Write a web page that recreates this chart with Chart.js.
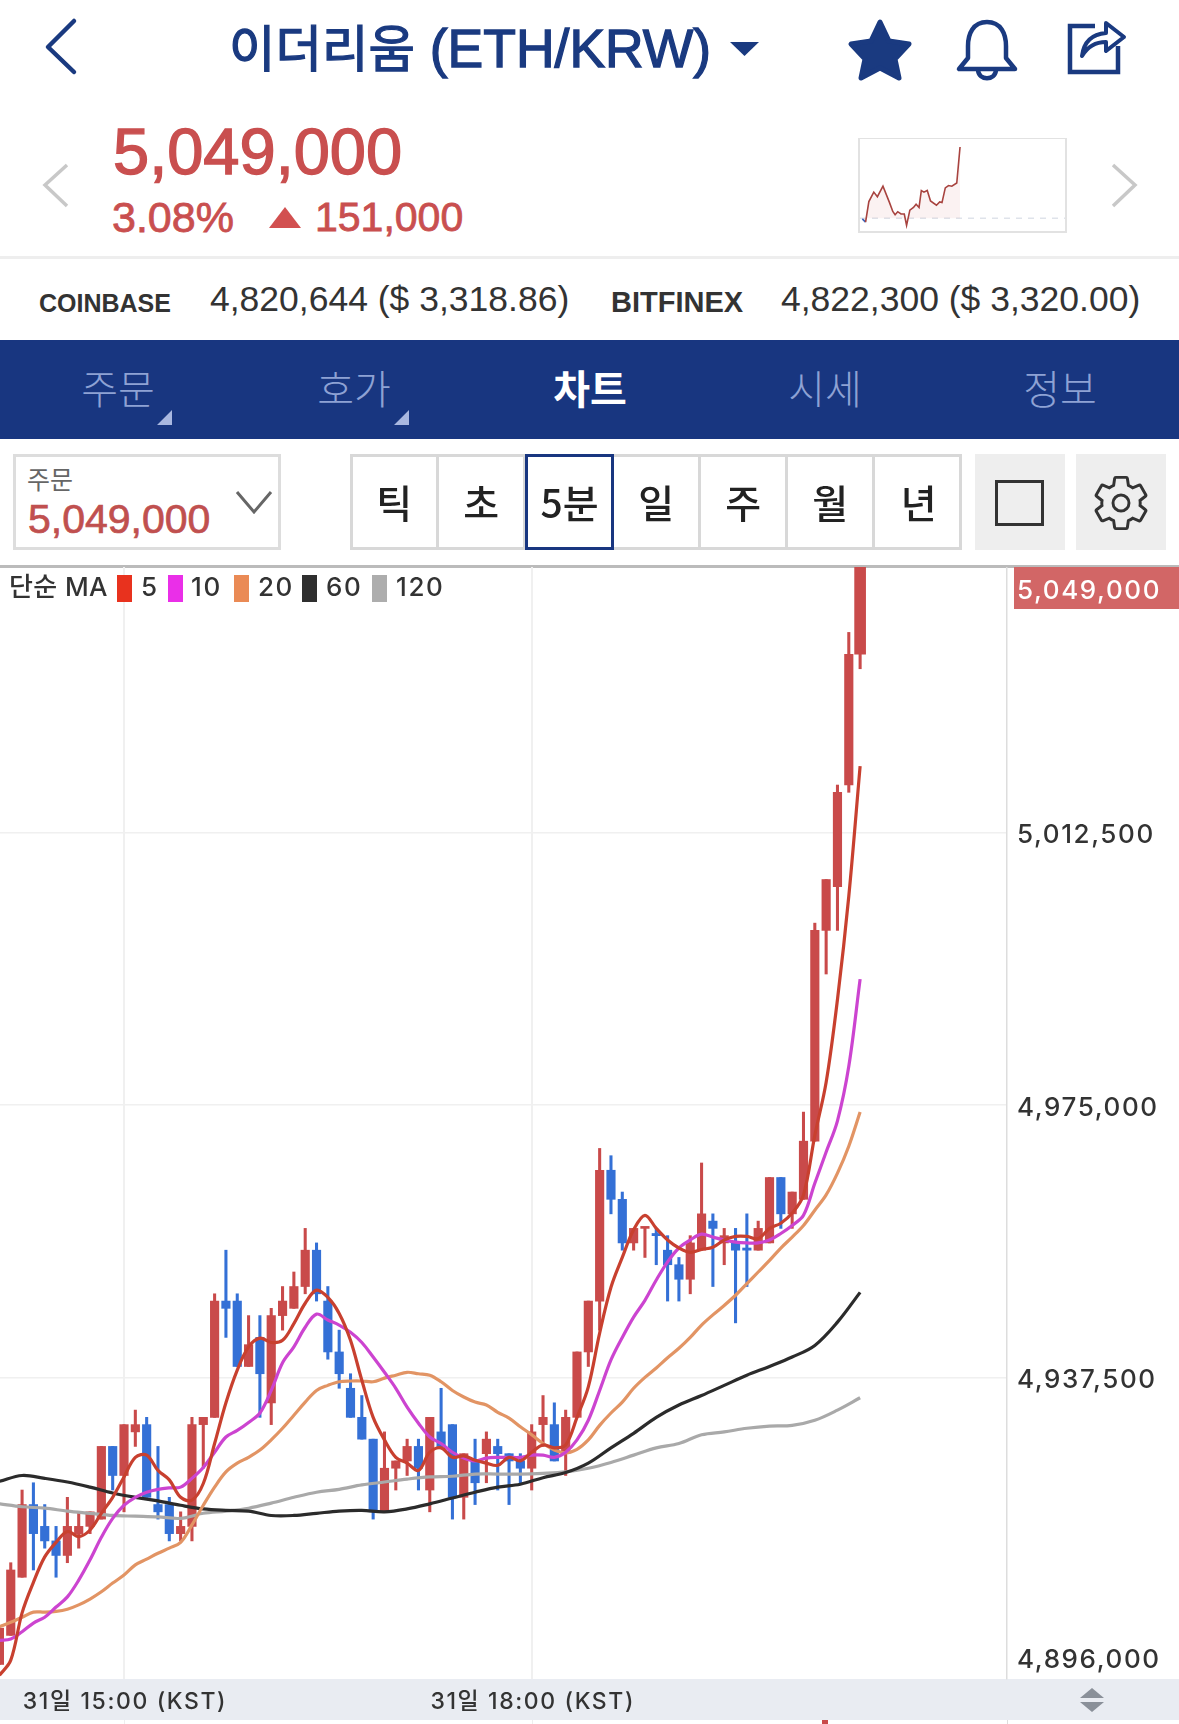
<!DOCTYPE html>
<html lang="ko">
<head>
<meta charset="utf-8">
<title>이더리움 (ETH/KRW)</title>
<script src="https://cdn.jsdelivr.net/npm/chart.js@4"></script>
<style>
* { box-sizing: border-box; }
html, body { margin: 0; padding: 0; background: #fff; }
body { width: 1179px; height: 1724px; position: relative; overflow: hidden; font-family: "Liberation Sans", "Noto Sans CJK KR", sans-serif; }
.abs { position: absolute; white-space: nowrap; line-height: 1; }
.tab { position: absolute; top: 367px; font-size: 40px; line-height: 1; color: #8ea2d4; transform: translateX(-50%); font-family: "Noto Sans CJK KR", sans-serif; font-weight: 300; }
.cell { position: absolute; top: 454px; height: 96px; width: 87.4px; border-right: 3px solid #d8d8d8; text-align: center; font-size: 39px; line-height: 94px; color: #222; font-family: "Noto Sans CJK KR", sans-serif; font-weight: 500; }
.sw { position: absolute; top: 575px; width: 15px; height: 27px; }
.lg { position: absolute; top: 573px; font: 500 26px/27px Inter, "Noto Sans CJK KR", sans-serif; letter-spacing: 1.6px; color: #333; white-space: nowrap; }
svg { position: absolute; overflow: visible; }
</style>
</head>
<body>

<!-- header -->
<svg style="left:0;top:0" width="1179" height="260" fill="none">
  <path d="M74 21 L48 47 L74 72" stroke="#1a3a80" stroke-width="4.5" stroke-linecap="round" stroke-linejoin="round"/>
  <path d="M730 42 H759 L744.5 56 Z" fill="#1a3a80"/>
  <path d="M880 22 L889 41 L909 44 L895 59 L899 78 L880 68 L861 78 L865 59 L851 44 L871 41 Z" fill="#1a3a80" stroke="#1a3a80" stroke-width="5" stroke-linejoin="round"/>
  <path d="M987 22 C973 22 968 34 968 46 V58 L959 69 H1015 L1006 58 V46 C1006 34 1001 22 987 22 Z" stroke="#1a3a80" stroke-width="4.5" stroke-linejoin="round"/>
  <path d="M978 70 C979 81 995 81 996 70" stroke="#1a3a80" stroke-width="4.5"/>
  <path d="M1095 26 H1070 V72 H1118 V46" stroke="#1a3a80" stroke-width="4.5"/>
  <path d="M1082 56 C1084 40 1094 34 1106 33 V23 L1124 37 L1106 51 V42 C1096 42 1088 46 1082 56 Z" stroke="#1a3a80" stroke-width="4" stroke-linejoin="round"/>
  <path d="M67 165 L45 185 L67 206" stroke="#c8c8c8" stroke-width="3.5"/>
  <path d="M1113 165 L1135 185 L1113 206" stroke="#c8c8c8" stroke-width="3.5"/>
  <path d="M269 228 L285 207 L301 228 Z" fill="#d25050"/>
</svg>
<div class="abs" style="left:229px;top:22px;font-size:53.5px;color:#1a3a80;font-weight:400;-webkit-text-stroke:1.3px #1a3a80"><span style="font-size:50.5px">이더리움</span> (ETH/KRW)</div>
<div class="abs" style="left:113px;top:119px;font-size:65px;color:#c94f4f;-webkit-text-stroke:1.4px #c94f4f">5,049,000</div>
<div class="abs" style="left:112px;top:196px;font-size:43px;color:#c94f4f;-webkit-text-stroke:.8px #c94f4f">3.08%</div>
<div class="abs" style="left:315px;top:197px;font-size:41px;color:#c94f4f;-webkit-text-stroke:.8px #c94f4f">151,000</div>

<div style="position:absolute;left:858px;top:138px;width:209px;height:95px;border:2px solid #e2e2e2;border-top-width:1px">
  <canvas id="sparkChart" width="205" height="92" style="display:block"></canvas>
</div>

<div style="position:absolute;left:0;top:256px;width:1179px;height:3px;background:#eee"></div>
<div class="abs" style="left:39px;top:291px;font-size:25px;font-weight:700;color:#333">COINBASE</div>
<div class="abs" style="left:210px;top:282px;font-size:35.5px;color:#333">4,820,644 ($ 3,318.86)</div>
<div class="abs" style="left:611px;top:288px;font-size:29px;font-weight:700;color:#333">BITFINEX</div>
<div class="abs" style="left:781px;top:282px;font-size:35.5px;color:#333">4,822,300 ($ 3,320.00)</div>

<!-- tabs -->
<div style="position:absolute;left:0;top:340px;width:1179px;height:99px;background:#183680"></div>
<div class="tab" style="left:118px">주문</div>
<div class="tab" style="left:354px">호가</div>
<div class="tab" style="left:590px;color:#fff;font-weight:700">차트</div>
<div class="tab" style="left:825px">시세</div>
<div class="tab" style="left:1060px">정보</div>
<svg style="left:0;top:0" width="1179" height="440">
  <path d="M172 410 V425 H157 Z M409 410 V425 H394 Z" fill="#a9b8e0"/>
</svg>

<!-- controls -->
<div style="position:absolute;left:13px;top:454px;width:268px;height:96px;border:3px solid #ddd"></div>
<div class="abs" style="left:27px;top:466px;font-size:25px;color:#666;font-family:'Noto Sans CJK KR'">주문</div>
<div class="abs" style="left:28px;top:499px;font-size:41px;color:#c0504f;-webkit-text-stroke:.7px #c0504f">5,049,000</div>
<svg style="left:0;top:0" width="300" height="560" fill="none"><path d="M237 492 L254 512 L271 492" stroke="#666" stroke-width="3"/></svg>

<div style="position:absolute;left:350px;top:454px;width:612px;height:96px;border:3px solid #d8d8d8"></div>
<div class="cell" style="left:352px">틱</div>
<div class="cell" style="left:439px">초</div>
<div class="cell" style="left:525px;border:3px solid #183680;line-height:88px;width:89px">5분</div>
<div class="cell" style="left:614px">일</div>
<div class="cell" style="left:701px">주</div>
<div class="cell" style="left:788px">월</div>
<div class="cell" style="left:875px;border-right:0">년</div>

<div style="position:absolute;left:975px;top:454px;width:90px;height:96px;background:#eee"></div>
<div style="position:absolute;left:995px;top:480px;width:49px;height:46px;border:3px solid #333"></div>
<div style="position:absolute;left:1076px;top:454px;width:90px;height:96px;background:#eee"></div>
<svg style="left:1089px;top:471px" width="64" height="64" viewBox="0 0 24 24" fill="none" stroke="#333" stroke-width="1.1">
  <path d="M19.14 12.94c.04-.3.06-.61.06-.94 0-.32-.02-.64-.07-.94l2.03-1.58a.49.49 0 0 0 .12-.61l-1.92-3.32a.49.49 0 0 0-.59-.22l-2.39.96c-.5-.38-1.03-.7-1.62-.94l-.36-2.54a.48.48 0 0 0-.48-.41h-3.84c-.24 0-.43.17-.47.41l-.36 2.54c-.59.24-1.13.57-1.62.94l-2.39-.96c-.22-.08-.47 0-.59.22L2.74 8.87c-.12.21-.08.47.12.61l2.03 1.58c-.05.3-.09.63-.09.94s.02.64.07.94l-2.03 1.58a.49.49 0 0 0-.12.61l1.92 3.32c.12.22.37.29.59.22l2.39-.96c.5.38 1.03.7 1.62.94l.36 2.54c.05.24.24.41.48.41h3.84c.24 0 .44-.17.47-.41l.36-2.54c.59-.24 1.13-.56 1.62-.94l2.39.96c.22.08.47 0 .59-.22l1.92-3.32c.12-.22.07-.47-.12-.61l-2.01-1.58z"/>
  <circle cx="12" cy="12" r="3"/>
</svg>

<!-- chart frame -->
<div style="position:absolute;left:0;top:565px;width:1179px;height:3px;background:#bbb"></div>
<div style="position:absolute;left:0;top:1679px;width:1179px;height:41px;background:#e9ecf2"></div>
<div style="position:absolute;left:124px;top:1720px;width:1px;height:4px;background:#eee"></div>
<div style="position:absolute;left:532px;top:1720px;width:1px;height:4px;background:#eee"></div>
<div style="position:absolute;left:1007px;top:1720px;width:1px;height:4px;background:#ddd"></div>
<div style="position:absolute;left:822px;top:1720px;width:6px;height:4px;background:#c94a4a"></div>
<canvas id="priceChart" width="1179" height="1153" style="position:absolute;left:0;top:567px"></canvas>
<svg style="left:0;top:0" width="1179" height="1724">
  <path d="M1080 1698 L1092 1688 L1104 1698 Z" fill="#8a9099"/>
  <path d="M1080 1702 L1092 1712 L1104 1702 Z" fill="#8a9099"/>
</svg>

<!-- MA legend -->
<div class="lg" style="left:9px;letter-spacing:.4px">단순 MA</div>
<div class="sw" style="left:117px;background:#e8321e"></div><div class="lg" style="left:141px">5</div>
<div class="sw" style="left:168px;background:#ea2fe8"></div><div class="lg" style="left:191px">10</div>
<div class="sw" style="left:234px;background:#ea8a55"></div><div class="lg" style="left:258px">20</div>
<div class="sw" style="left:302px;background:#2f2f2f"></div><div class="lg" style="left:326px">60</div>
<div class="sw" style="left:372px;background:#adadad"></div><div class="lg" style="left:396px">120</div>

<script>
// prices in thousand KRW, one entry per 5 minute candle
const firstSlot = -11; // slot 0 is 15:00, slot 36 is 18:00

const opens = [4898,4902,4910,4920,4917,4915,4913,4916,4917,4918,4928,4924,4930,4931,4920,4920,4916,4917,4931,4932,4948,4948,4939,4943,4934,4946,4947,4950,4955,4948,4941,4936,4932,4929,4919,4925,4926,4928,4922,4930,4931,4921,4926,4927,4928,4927,4926,4925,4931,4931,4927,4932,4941,4948,4966,4962,4956,4958,4957.3,4955,4953,4951,4955,4959,4956,4956,4955.3,4955,4956,4965,4960,4962,4970,4999,5005,5019,5037];
const closes = [4903,4911,4920,4916,4915,4913,4917,4917,4919,4928,4924,4931,4931,4921,4919,4916,4917,4931,4932,4948,4947,4939,4942,4938,4946,4948,4950,4955,4949,4941,4938,4932,4929,4919,4925,4926,4928,4925,4932,4928,4921,4927,4923,4929,4927,4926,4925,4930,4932,4926,4932,4941,4948,4966,4962,4956,4958,4958,4957,4953,4951,4956,4960,4958,4957,4955,4955,4958,4965,4960,4963,4970,4999,5006,5018,5037,5049];
const highs = [4903,4912,4922,4923,4920,4917,4921,4919,4919,4928,4928,4931,4933,4932,4928,4921,4919,4932,4932,4949,4955,4949,4946,4946,4947,4950,4952,4958,4956,4950,4944,4938,4935,4929,4930,4926,4929,4929,4932,4936,4931,4927,4929,4930,4929,4927,4927,4931,4935,4934,4933,4941,4948,4969,4968,4963,4958,4958,4958,4957,4954,4957,4967,4960,4958,4958,4960,4959,4965,4965,4963,4974,5000,5006,5019,5040,5049];
const lows = [4898,4902,4910,4911,4914,4910,4912,4914,4916,4918,4922,4919,4928,4921,4918,4915,4915,4915,4925,4932,4943,4939,4939,4932,4931,4944,4947,4949,4948,4940,4936,4932,4929,4918,4919,4922,4924,4922,4919,4928,4918,4918,4920,4923,4922,4920,4923,4922,4928,4926,4924,4932,4939,4944,4960,4955,4955,4954,4953,4948,4948,4949,4955,4950,4953,4945,4950,4955,4956,4958,4958,4962,4970,4993,4999,5018,5035];

const ma5 = [4896.5,4898.6,4905.1,4909.3,4912.8,4914.8,4916.3,4915.6,4916.5,4918.8,4921.0,4923.8,4926.5,4926.8,4924.7,4923.4,4921.0,4920.6,4922.9,4928.4,4934.0,4938.5,4941.7,4942.9,4942.3,4942.6,4944.9,4947.7,4949.5,4948.5,4946.3,4942.6,4937.1,4932.0,4928.9,4926.5,4925.7,4924.7,4927.2,4927.8,4926.5,4926.7,4926.1,4925.7,4925.4,4926.5,4926.0,4927.2,4928.2,4927.8,4928.2,4932.0,4936.2,4943.6,4949.9,4954.0,4957.8,4959.8,4958.0,4956.4,4955.3,4954.7,4955.1,4955.4,4956.4,4956.9,4956.9,4956.6,4958.0,4958.7,4960.1,4962.6,4970.8,4978.1,4989.5,5003.7,5021.6];
const ma10 = [4901.3,4901.5,4902.5,4903.7,4904.5,4905.9,4907.3,4909.6,4912.4,4915.5,4918.1,4919.9,4921.0,4921.7,4922.1,4922.3,4922.4,4923.6,4925.1,4927.2,4929.3,4930.2,4931.3,4932.6,4935.7,4939.5,4941.7,4944.4,4946.2,4945.4,4944.7,4943.7,4942.3,4940.3,4938.2,4936.0,4933.4,4931.2,4929.3,4928.4,4927.2,4926.4,4926.0,4926.4,4926.5,4926.5,4926.5,4926.8,4926.8,4926.5,4927.2,4928.9,4931.6,4935.7,4939.9,4943.0,4945.8,4948.1,4950.9,4953.4,4955.3,4956.4,4957.2,4956.8,4956.4,4956.1,4956.0,4956.0,4956.4,4957.3,4958.4,4959.8,4964.2,4968.5,4972.8,4980.3,4992.3];
const ma20 = [4903.2,4903.8,4904.5,4905.2,4905.2,4905.3,4905.6,4906.2,4907.0,4908.0,4909.2,4910.3,4911.7,4912.5,4913.3,4914.0,4914.8,4917.2,4919.9,4922.4,4924.5,4925.7,4926.5,4927.5,4928.9,4930.5,4932.3,4934.1,4935.7,4936.4,4936.9,4937.0,4937.0,4936.9,4937.4,4937.8,4938.2,4938.0,4937.8,4936.9,4935.7,4934.8,4934.1,4933.7,4932.7,4931.9,4930.7,4929.6,4928.4,4927.5,4927.1,4927.6,4928.9,4930.9,4932.6,4934.1,4936.0,4937.5,4938.8,4940.2,4941.5,4943.0,4944.7,4946.1,4947.4,4948.8,4950.4,4952.0,4953.6,4955.3,4956.8,4958.4,4960.5,4962.6,4965.6,4969.3,4974.0];

// the two slow averages were read at every second candle
const slowSlots = [-11,-9,-7,-5,-3,-1,1,3,5,7,9,11,13,15,17,19,21,23,25,27,29,31,33,35,37,39,41,43,45,47,49,51,53,55,57,59,61,63,65];
const ma60 = [4923.2,4924.0,4923.6,4923.1,4922.4,4921.6,4921.0,4920.5,4919.9,4919.4,4919.2,4919.1,4918.5,4918.5,4918.8,4919.1,4919.2,4919.0,4919.4,4920.1,4920.9,4921.7,4922.4,4922.8,4923.7,4924.4,4925.7,4927.8,4929.8,4932.0,4933.7,4935.0,4936.4,4937.8,4939.0,4940.3,4941.9,4945.1,4949.2];
const ma120 = [4920.1,4919.7,4919.5,4919.1,4918.8,4918.5,4918.4,4918.3,4918.1,4918.8,4919.1,4919.5,4920.2,4921.0,4921.7,4922.1,4922.7,4923.1,4923.5,4923.8,4923.9,4924.2,4924.2,4924.2,4924.3,4924.5,4925.0,4925.8,4926.8,4927.8,4928.4,4929.6,4930.0,4930.5,4930.8,4930.9,4931.6,4933.0,4934.7];

const priceTicks = [5012.5, 4975, 4937.5];
const priceMin = 4896;
const priceMax = 5049;
const timeTicks = [0, 36];
const timeLabels = ["31일 15:00 (KST)", "31일 18:00 (KST)"];

// small day chart in the header
const sparkTime = [7,17,27,42,53,70,90,100,107,115,125,135,142,152,163,171,180,187,195,205,215,233,243,250,260,270,280,295,305];
const sparkPrice = [4896.6,4889.7,4933.3,4953.4,4943.7,4965.9,4931.2,4912.5,4905.6,4911.9,4907,4907,4882.8,4915.3,4920.9,4927.8,4920.9,4956.9,4953.4,4956.9,4934.7,4925.7,4932.6,4931.2,4962.4,4967.3,4965.9,4972.8,5049];
const prevClose = 4898;

const UP = '#c94a4a';
const DOWN = '#3470d6';
const FONT = 'Inter, "Noto Sans CJK KR", sans-serif';

const slots = opens.map((_, i) => i + firstSlot);
const candleColors = opens.map((o, i) => closes[i] >= o ? UP : DOWN);
const lastSlot = slots.length - 1;

function maLine(values, xs, color, order) {
    return {
        type: 'line',
        data: values.map((v, i) => ({ x: xs[i], y: v })),
        borderColor: color,
        borderWidth: 3.2,
        pointRadius: 0,
        tension: 0.35,
        order: order
    };
}

function fmt(k) {
    return (k * 1000).toLocaleString('en-US');
}

// last price tag and the bottom label sit off their gridlines in the app
const edgeLabels = {
    id: 'edgeLabels',
    beforeDraw(chart) {
        chart.ctx.letterSpacing = '1.6px';
    },
    afterDraw(chart) {
        const ctx = chart.ctx;
        const y = chart.scales.y;
        const top = y.getPixelForValue(closes[lastSlot]);
        ctx.save();
        ctx.fillStyle = '#d26666';
        ctx.fillRect(1014, top, 165, 42);
        ctx.font = '500 26px ' + FONT;
        ctx.textBaseline = 'middle';
        ctx.fillStyle = '#fff';
        ctx.fillText(fmt(closes[lastSlot]), 1017, top + 24);
        ctx.fillStyle = '#333';
        ctx.fillText(fmt(priceMin), 1017, y.getPixelForValue(priceMin) - 19);
        ctx.restore();
    }
};

new Chart(document.getElementById('priceChart'), {
    type: 'bar',
    data: {
        datasets: [
            maLine(ma5, slots, '#c8402f', 0),
            maLine(ma10, slots, '#cc44d0', 1),
            maLine(ma20, slots, '#e29464', 2),
            maLine(ma60, slowSlots, '#2b2b2b', 3),
            maLine(ma120, slowSlots, '#a9a9a9', 4),
            {
                // body of the last candle is drawn wider
                data: [{ x: slots[lastSlot], y: [opens[lastSlot], closes[lastSlot]] }],
                backgroundColor: UP,
                grouped: false,
                barThickness: 11,
                maxBarThickness: 11,
                order: 5
            },
            {
                data: slots.slice(0, lastSlot).map((s, i) => ({ x: s, y: [opens[i], closes[i]] })),
                backgroundColor: candleColors,
                grouped: false,
                barThickness: 8.5,
                maxBarThickness: 8.5,
                minBarLength: 2,
                order: 6
            },
            {
                data: slots.map((s, i) => ({ x: s, y: [lows[i], highs[i]] })),
                backgroundColor: candleColors,
                grouped: false,
                barThickness: 2.4,
                maxBarThickness: 2.4,
                order: 7
            }
        ]
    },
    options: {
        responsive: false,
        animation: false,
        devicePixelRatio: 1,
        layout: { padding: 0 },
        plugins: { legend: { display: false }, tooltip: { enabled: false } },
        scales: {
            x: {
                type: 'linear',
                offset: false,
                min: -10.95,
                max: 77.97,
                afterBuildTicks(scale) { scale.ticks = timeTicks.map(v => ({ value: v })); },
                afterFit(scale) { scale.height = 41; scale.paddingLeft = 0; scale.paddingRight = 0; },
                ticks: {
                    autoSkip: false,
                    maxRotation: 0,
                    padding: 9,
                    labelOffset: 1,
                    color: '#333',
                    font: { family: FONT, size: 23, weight: '500' },
                    callback: v => timeLabels[timeTicks.indexOf(v)]
                },
                grid: { offset: false, color: '#f0f0f0', lineWidth: 2, drawTicks: false },
                border: { display: false }
            },
            y: {
                position: 'right',
                min: priceMin,
                max: priceMax,
                afterBuildTicks(scale) { scale.ticks = priceTicks.map(v => ({ value: v })); },
                afterFit(scale) { scale.width = 172; scale.paddingTop = 0; scale.paddingBottom = 0; },
                ticks: {
                    padding: 10,
                    labelOffset: 3,
                    color: '#333',
                    font: { family: FONT, size: 26, weight: '500' },
                    callback: v => fmt(v)
                },
                grid: { color: '#f0f0f0', lineWidth: 1.5, drawTicks: false },
                border: { color: '#ddd', width: 1.5 }
            }
        }
    },
    plugins: [edgeLabels]
});

new Chart(document.getElementById('sparkChart'), {
    type: 'line',
    data: {
        datasets: [
            {
                data: sparkTime.map((t, i) => ({ x: t, y: sparkPrice[i] })),
                borderColor: '#a8433f',
                borderWidth: 1.6,
                pointRadius: 0,
                fill: { value: prevClose },
                backgroundColor: 'rgba(201,74,74,0.07)',
                segment: {
                    borderColor: c => (c.p0.parsed.y < prevClose && c.p1.parsed.y < prevClose) ? '#3a62b8' : undefined
                }
            },
            {
                data: [{ x: 0, y: prevClose }, { x: 625, y: prevClose }],
                borderColor: '#dfe3ea',
                borderWidth: 1.5,
                borderDash: [6, 6],
                pointRadius: 0
            }
        ]
    },
    options: {
        responsive: false,
        animation: false,
        devicePixelRatio: 1,
        layout: { padding: 0 },
        plugins: { legend: { display: false }, tooltip: { enabled: false } },
        scales: {
            x: { type: 'linear', min: 0, max: 625, display: false },
            y: { min: 4871, max: 5066, display: false }
        }
    }
});
</script>
</body>
</html>
